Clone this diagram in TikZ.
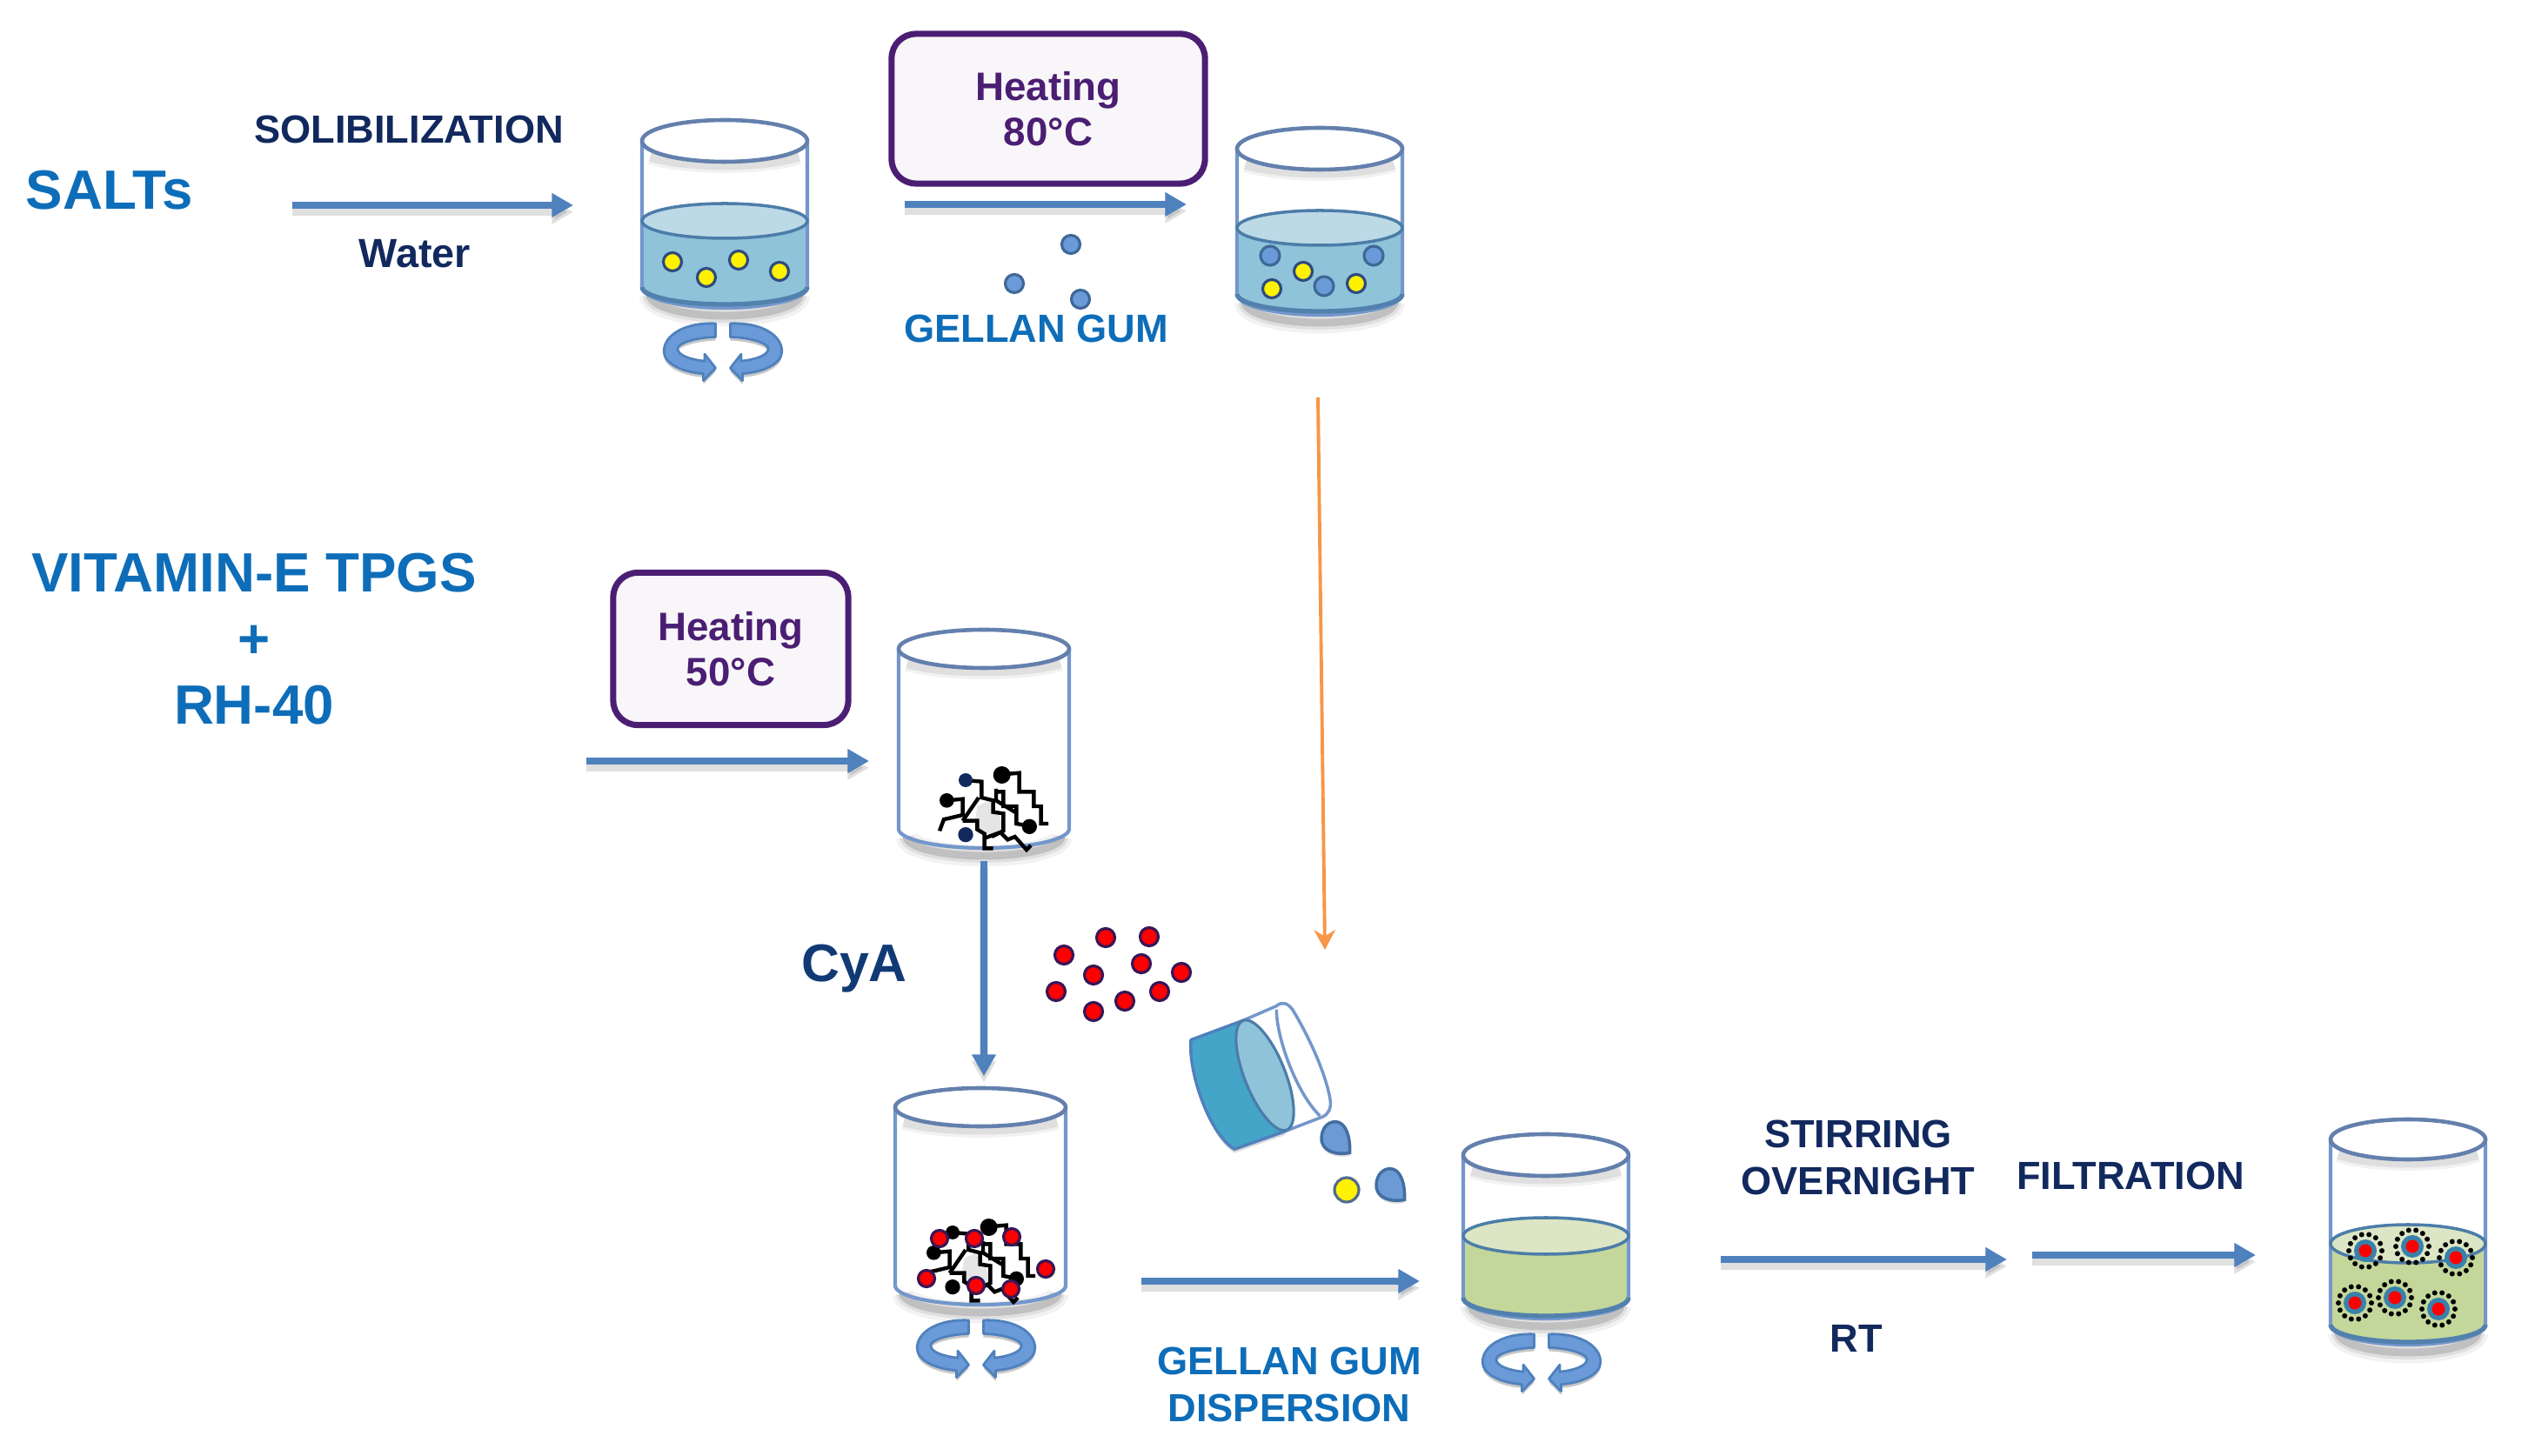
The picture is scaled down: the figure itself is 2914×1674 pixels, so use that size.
\documentclass[tikz,border=0pt]{standalone}
\usepackage{fontspec}
\setmainfont{Liberation Sans}
\usetikzlibrary{arrows.meta}

\definecolor{navy}{HTML}{12295E}
\definecolor{aqua}{HTML}{0E6DB8}
\definecolor{plum}{HTML}{4B1E73}
\definecolor{flowblue}{HTML}{4F81BD}
\definecolor{feedorange}{HTML}{F79646}
\definecolor{glass}{HTML}{7497CB}
\definecolor{waterside}{HTML}{8EC3D9}
\definecolor{watertop}{HTML}{BBDAE6}
\definecolor{waterline}{HTML}{4C7DA9}
\definecolor{gelside}{HTML}{C4D79B}
\definecolor{geltop}{HTML}{DCE6C4}
\definecolor{cupblue}{HTML}{45A5C8}
\definecolor{stirblue}{HTML}{6A9BD8}

% lower half of an ellipse, from the left end to the right end
\newcommand{\lowarc}[4]{-- ({#1-#2},#3) .. controls ({#1-#2},{#3+.552*#4}) and ({#1-.552*#2},{#3+#4}) .. (#1,{#3+#4}) .. controls ({#1+.552*#2},{#3+#4}) and ({#1+#2},{#3+.552*#4}) .. ({#1+#2},#3)}
% cx, rx, y of rim centre, y of bottom arc ends, ry
\newcommand{\beaker}[5]{
  \foreach \w/\o in {7pt/.05,4.5pt/.08,2.5pt/.14}
    \draw[line width=\w,black,opacity=\o] ({#1-#2+9},{#4+9}) \lowarc{#1}{(#2-9)}{#4+9}{#5};
  \draw[glass,line width=1.2pt,join=round] ({#1-#2},#3) \lowarc{#1}{#2}{#4}{#5} -- ({#1+#2},#3);
  \foreach \w/\o in {5pt/.05,3pt/.08}
    \draw[line width=\w,black,opacity=\o] ({#1-.9*#2},{#3+#5*.55+5}) .. controls ({#1-.45*#2},{#3+#5*1.1+5}) and ({#1+.45*#2},{#3+#5*1.1+5}) .. ({#1+.9*#2},{#3+#5*.55+5});
  \draw[glass!85!black,line width=1.3pt,fill=white] (#1,#3) ellipse [x radius=#2,y radius=#5];
}
% cx, rx, y of surface, y of bottom arc ends, ry of surface, ry of bottom, side colour, top colour
\newcommand{\liquid}[8]{
  \fill[#7] ({#1-#2},#3) \lowarc{#1}{#2}{#4}{#6} -- ({#1+#2},#3) -- cycle;
  \draw[waterline!85!glass,line width=1.5pt] ({#1-#2},#4) \lowarc{#1}{#2}{#4}{#6};
  \draw[glass,line width=1.2pt] ({#1-#2},#3) -- ({#1-#2},#4) ({#1+#2},#3) -- ({#1+#2},#4);
  \draw[waterline,line width=1pt,fill=#8] (#1,#3) ellipse [x radius=#2,y radius=#5];
}

\tikzset{
  lab/.style={inner sep=0pt,align=center,font=\bfseries\fontsize{12.85}{15.3}\selectfont},
  dark/.style={lab,text=navy},
  aquatext/.style={lab,text=aqua},
  big/.style={inner sep=0pt,align=center,text=aqua,font=\bfseries\fontsize{18.1}{21.6}\selectfont},
  hbox/.style={draw=plum,line width=2pt,fill=plum!4,rounded corners=.28cm,text=plum,align=center,inner sep=0pt,font=\bfseries\fontsize{13}{14.8}\selectfont},
  flow/.style={draw=flowblue,line width=2.2pt,-{Triangle[length=7pt,width=7.5pt]},
    preaction={draw=black,opacity=.12,line width=2.6pt,transform canvas={yshift=-2.2pt}}},
  feed/.style={draw=feedorange,line width=1.1pt,-{Stealth[length=6.5pt,width=7pt]}},
  salt/.style={draw=navy!70!glass,line width=.9pt,fill=yellow},
  gum/.style={draw=flowblue!80!black,line width=.9pt,fill=stirblue},
  drug/.style={draw=plum!75!black,line width=.9pt,fill=red},
  chain/.style={draw=black,line width=1.25pt},
  pics/stir/.style={code={
    \foreach \m in {1,-1}{
      \begin{scope}[xscale=\m*.3125,yscale=.32,shift={(-517,-930)}]
        \draw[fill=stirblue,draw=flowblue,line width=.8pt,join=round,
          preaction={fill=black,opacity=.22,transform canvas={yshift=-1.2pt}}]
          (490,830) .. controls (380,825) and (300,870) .. (300,930)
          .. controls (300,975) and (370,1005) .. (445,1010) -- (445,1035) -- (490,990) -- (450,940) -- (450,965)
          .. controls (400,960) and (350,945) .. (350,920)
          .. controls (350,900) and (420,880) .. (490,878) -- cycle;
      \end{scope}
    }
  }},
  pics/blob/.style={code={
    \begin{scope}[scale=.3333,shift={(-570,-680)}]
      \fill[black!10] (520,680) -- (560,660) -- (600,720) -- (610,760) -- (570,785) -- (510,745) -- cycle;
      \draw[chain] (480,590) -- (535,595) -- (535,650) -- (575,660) -- (575,700) -- (610,705) -- (610,765) -- (570,785);
      \draw[chain] (605,570) -- (665,565) -- (665,630) -- (715,630) -- (715,680) -- (740,680) -- (740,740) -- (765,740);
      \draw[chain] (590,630) -- (610,630) -- (610,680) -- (655,680) -- (655,740) -- (700,748);
      \draw[chain] (585,620) -- (585,660) -- (650,700);
      \draw[chain] (415,660) -- (470,655) -- (470,710) -- (420,722) -- (405,725) -- (390,765);
      \draw[chain] (525,650) -- (470,730);
      \draw[chain] (470,730) -- (520,730) -- (520,760) -- (545,775) -- (545,825) -- (575,825);
      \draw[chain] (545,790) -- (600,770) -- (625,795) -- (650,785) -- (690,830) -- (705,815);
      \fill[#1] (480,590) circle [radius=24];
      \fill[black] (415,660) circle [radius=25];
      \fill[black] (605,572) circle [radius=30];
      \fill[black] (700,750) circle [radius=26];
      \fill[#1] (480,778) circle [radius=26];
    \end{scope}
  }},
  pics/drop/.style={code={
    \begin{scope}[scale=.3333]
      \draw[draw=flowblue!85!black,line width=1pt,fill=stirblue!75!glass,
        preaction={fill=black,opacity=.15,transform canvas={yshift=-1pt}}]
        (50,52) .. controls (0,62) and (-50,45) .. (-48,0)
        .. controls (-46,-35) and (-25,-55) .. (0,-55)
        .. controls (35,-55) and (52,-5) .. (50,52) -- cycle;
    \end{scope}
  }},
  pics/micelle/.style={code={
    \fill[flowblue!70!teal] (0,0) circle [radius=13];
    \fill[red] (0,0) circle [radius=7.5];
    \foreach \a in {0,25.7,...,340} \fill[black] (\a:19) circle [radius=3];
  }}
}

\begin{document}
\begin{tikzpicture}[x=.01cm,y=-.01cm]
  \useasboundingbox (0,0) rectangle (2914,1674);

  % arrow ends
  \coordinate (a1s) at (336,236);   \coordinate (a1e) at (659,236);
  \coordinate (a2s) at (1040,235);  \coordinate (a2e) at (1364,235);
  \coordinate (a3s) at (674,875);   \coordinate (a3e) at (999,875);
  \coordinate (a4s) at (1131,990);  \coordinate (a4e) at (1131,1237);
  \coordinate (a5s) at (1312,1473); \coordinate (a5e) at (1632,1473);
  \coordinate (a6s) at (1978,1448); \coordinate (a6e) at (2307,1448);
  \coordinate (a7s) at (2336,1443); \coordinate (a7e) at (2593,1443);
  \coordinate (o1s) at (1515,457);  \coordinate (o1e) at (1523,1092);

  % first row
  \node[big] (salts) at (126,219) {SALTs};
  \node[dark] (solub) at (470,149) {SOLIBILIZATION};
  \node[dark,font=\bfseries\fontsize{13.3}{15}\selectfont] (water) at (477,292) {Water};
  \draw[flow] (a1s) -- (a1e);

  \beaker{833}{95}{162}{330}{24}
  \liquid{833}{95}{254}{330}{20}{20}{waterside}{watertop}
  \foreach \x/\y in {773/301,812/319,849/299,896/312} \draw[salt] (\x,\y) circle [radius=10.5];
  \pic at (831,404) {stir};

  \node[hbox,minimum width=3.6cm,minimum height=1.72cm] (h80) at (1205,125) {Heating\\80°C};
  \draw[flow] (a2s) -- (a2e);
  \foreach \x/\y in {1231/281,1166/326,1242/344} \draw[gum] (\x,\y) circle [radius=10.5];
  \node[aquatext] (gum1) at (1191,378) {GELLAN GUM};

  \beaker{1517}{95}{171}{338}{24}
  \liquid{1517}{95}{262}{338}{20}{20}{waterside}{watertop}
  \foreach \x/\y in {1460/294,1579/294,1522/329} \draw[gum] (\x,\y) circle [radius=11];
  \foreach \x/\y in {1498/312,1462/332,1559/326} \draw[salt] (\x,\y) circle [radius=10.5];

  \draw[feed] (o1s) -- (o1e);

  % second row
  \node[big] (vit) at (292,735) {VITAMIN-E TPGS\\+\\RH-40};
  \node[hbox,minimum width=2.7cm,minimum height=1.75cm] (h50) at (840,746) {Heating\\50°C};
  \draw[flow] (a3s) -- (a3e);

  \beaker{1131}{98}{746}{953}{22}
  \pic at (1140,927) {blob=navy};

  \draw[flow] (a4s) -- (a4e);
  \node[big,text=navy!75!aqua,font=\bfseries\fontsize{17.3}{20}\selectfont] (cya) at (982,1114) {CyA};

  \foreach \x/\y in {1271/1078,1321/1077,1223/1098,1312/1108,1358/1118,1257/1121,1214/1140,1333/1140,1293/1151,1257/1163}
    \draw[drug] (\x,\y) circle [radius=10.5];

  % cup being poured
  \begin{scope}[xshift=11.8cm,yshift=-10.5cm,scale=.3333]
    \draw[glass,line width=1pt,fill=white,join=round]
      (745,368) -- (860,318) .. controls (880,300) and (900,310) .. (915,330)
      .. controls (970,420) and (1030,550) .. (1045,640)
      .. controls (1050,670) and (1040,690) .. (1020,700) -- (890,750) -- cycle;
    \draw[glass,line width=1pt] (860,330) .. controls (860,430) and (930,620) .. (1010,697);
    \draw[draw=flowblue,line width=1pt,fill=cupblue,join=round,
      preaction={fill=black,opacity=.15,transform canvas={yshift=-1.2pt}}]
      (565,435) .. controls (555,550) and (630,760) .. (715,812) -- (890,750) -- (745,368) -- cycle;
    \draw[waterline,line width=.9pt,fill=waterside] (820,557) ellipse [x radius=70,y radius=203,rotate=21.8];
  \end{scope}
  \pic at (1535,1308) {drop};
  \pic at (1598,1362) {drop};
  \draw[salt,draw=glass!70!black] (1548,1368) circle [radius=14];

  % third row
  \beaker{1127}{98}{1273}{1478}{22}
  \pic at (1125,1447) {blob=black};
  \foreach \x/\y in {1080/1424,1120/1424,1163/1422,1202/1459,1065/1470,1122/1478,1162/1482}
    \draw[drug] (\x,\y) circle [radius=9.5];
  \pic at (1122,1550) {stir};

  \draw[flow] (a5s) -- (a5e);
  \node[aquatext] (gum2) at (1482,1592) {GELLAN GUM\\DISPERSION};

  \beaker{1777}{95}{1328}{1492}{24}
  \liquid{1777}{95}{1421}{1492}{21}{21}{gelside}{geltop}
  \pic at (1772,1566) {stir};

  \node[dark] (stir) at (2136,1331) {STIRRING\\OVERNIGHT};
  \draw[flow] (a6s) -- (a6e);
  \node[dark] (rt) at (2134,1539) {RT};
  \node[dark] (filt) at (2449,1352) {FILTRATION};
  \draw[flow] (a7s) -- (a7e);

  \beaker{2768}{89}{1310}{1523}{23}
  \liquid{2768}{89}{1430}{1523}{22}{20}{gelside}{geltop}
  \foreach \x/\y in {2719/1438,2773/1433,2823/1446,2707/1498,2753/1492,2803/1505}
    \pic at (\x,\y) {micelle};
\end{tikzpicture}
\end{document}
